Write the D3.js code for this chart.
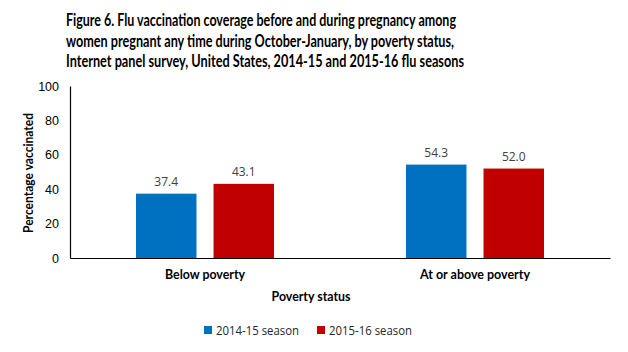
<!DOCTYPE html>
<html>
<head>
  <script src="https://d3js.org/d3.v7.min.js"></script>
  <style>
    body { margin: 0; background: #fff; }
    svg { display: block; font-family: "Open Sans", "Liberation Sans", sans-serif; }
    .title { font-family: Lato, "Open Sans", sans-serif; font-weight: bold; font-size: 16.5px; fill: #000; }
    .tick text { font-size: 12.5px; fill: #000; }
    .vlabel { font-size: 12px; fill: #404040; }
    .cat { font-family: Lato, "Open Sans", sans-serif; font-weight: bold; font-size: 13.5px; fill: #000; }
  </style>
</head>
<body>
<script>
var categories = ["Below poverty", "At or above poverty"];
var seasons = ["2014-15 season", "2015-16 season"];
var season1415 = [37.4, 54.3];
var season1516 = [43.1, 52.0];
var yTicks = [0, 20, 40, 60, 80, 100];
var colors = ["#0070C0", "#C00000"];
var titleLines = [
  "Figure 6. Flu vaccination coverage before and during pregnancy among",
  "women pregnant any time during October-January, by poverty status,",
  "Internet panel survey, United States, 2014-15 and 2015-16 flu seasons"
];

var width = 628, height = 352;
var svg = d3.select("body").append("svg")
  .attr("width", width).attr("height", height);

// title, widths fitted to the reference lines
svg.selectAll(".title")
  .data(titleLines)
  .enter().append("text")
  .attr("class", "title")
  .attr("x", 66)
  .attr("y", function(d, i) { return 26 + i * 20.5; })
  .attr("textLength", function(d, i) { return [390, 388, 398][i]; })
  .attr("lengthAdjust", "spacingAndGlyphs")
  .text(function(d) { return d; });

var x0 = d3.scaleBand().domain(categories).range([70, 610]);
var x1 = d3.scaleBand().domain(seasons).range([0, 138]).paddingInner(0.22);
var y = d3.scaleLinear().domain([0, 100]).range([258, 86]);

var yAxis = svg.append("g")
  .attr("transform", "translate(70,0)")
  .call(d3.axisLeft(y).tickValues(yTicks).tickSize(0).tickPadding(11));
yAxis.select(".domain").attr("stroke", "#000").attr("stroke-width", 1.2);

var rows = categories.map(function(c, i) {
  return { cat: c, vals: [season1415[i], season1516[i]] };
});

var groups = svg.selectAll(".grp")
  .data(rows)
  .enter().append("g")
  .attr("transform", function(d) {
    return "translate(" + (x0(d.cat) + (x0.bandwidth() - 138) / 2) + ",0)";
  });

groups.selectAll("rect")
  .data(function(d) { return d.vals.map(function(v, j) { return { s: seasons[j], v: v, j: j }; }); })
  .enter().append("rect")
  .attr("x", function(d) { return x1(d.s); })
  .attr("y", function(d) { return y(d.v); })
  .attr("width", x1.bandwidth())
  .attr("height", function(d) { return y(0) - y(d.v); })
  .attr("fill", function(d) { return colors[d.j]; });

groups.selectAll(".vlabel")
  .data(function(d) { return d.vals.map(function(v, j) { return { s: seasons[j], v: v }; }); })
  .enter().append("text")
  .attr("class", "vlabel")
  .attr("text-anchor", "middle")
  .attr("x", function(d) { return x1(d.s) + x1.bandwidth() / 2; })
  .attr("y", function(d) { return y(d.v) - 8; })
  .text(function(d) { return d.v.toFixed(1); });

var xAxis = svg.append("g")
  .attr("transform", "translate(0,258)")
  .call(d3.axisBottom(x0).tickSize(0).tickPadding(12));
xAxis.select(".domain").attr("stroke", "#000").attr("stroke-width", 1.2);
xAxis.selectAll(".tick text")
  .attr("class", "cat").style("font-size", null)
  .attr("textLength", function(d, i) { return [80, 110][i]; })
  .attr("lengthAdjust", "spacingAndGlyphs");

svg.append("text")
  .attr("class", "cat")
  .attr("x", 311).attr("y", 301)
  .attr("text-anchor", "middle")
  .attr("textLength", 79).attr("lengthAdjust", "spacingAndGlyphs")
  .text("Poverty status");

svg.append("text")
  .attr("class", "cat")
  .attr("transform", "translate(33,173) rotate(-90)")
  .attr("text-anchor", "middle")
  .attr("textLength", 120).attr("lengthAdjust", "spacingAndGlyphs")
  .text("Percentage vaccinated");

// legend
var legend = svg.selectAll(".leg")
  .data(seasons)
  .enter().append("g")
  .attr("transform", function(d, i) { return "translate(" + (204 + i * 113) + ",326)"; });
legend.append("rect")
  .attr("width", 8).attr("height", 8)
  .attr("fill", function(d, i) { return colors[i]; });
legend.append("text")
  .attr("x", 12).attr("y", 8.5)
  .style("font-size", "12px").attr("fill", "#262626")
  .attr("textLength", 83).attr("lengthAdjust", "spacingAndGlyphs")
  .text(function(d) { return d; });
</script>
</body>
</html>
